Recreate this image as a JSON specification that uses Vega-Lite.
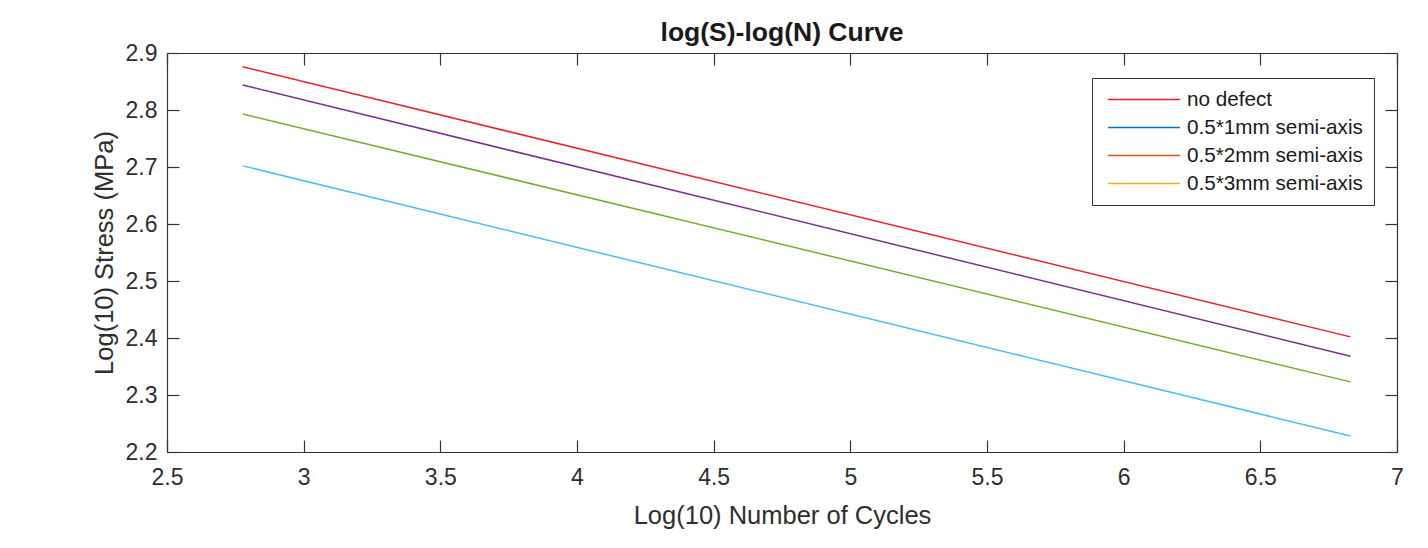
{
  "$schema": "https://vega.github.io/schema/vega-lite/v6.json",
  "width": 1230,
  "height": 399,
  "autosize": {"type": "none"},
  "padding": {"left": 167, "top": 53, "right": 31, "bottom": 96},
  "background": "white",
  "title": {
    "text": "log(S)-log(N) Curve",
    "font": "Liberation Sans",
    "fontSize": 26.5,
    "fontWeight": "bold",
    "color": "#1a1a1a",
    "baseline": "alphabetic",
    "offset": 10,
    "dy": 35,
    "frame": "group",
    "anchor": "middle"
  },
  "config": {
    "view": {"stroke": null},
    "axis": {
      "grid": false,
      "domainColor": "#333333",
      "domainWidth": 1.2,
      "tickColor": "#333333",
      "tickWidth": 1.2,
      "tickSize": -12,
      "labelFont": "Liberation Sans",
      "labelFontSize": 23,
      "labelColor": "#2e2e2e",
      "labelFlush": false,
      "labelOverlap": false,
      "titleFont": "Liberation Sans",
      "titleFontSize": 25.5,
      "titleFontWeight": "normal",
      "titleColor": "#2e2e2e"
    }
  },
  "data": {
    "values": [
      {"series": "no defect", "logN": 2.777, "logS": 2.876},
      {"series": "no defect", "logN": 6.83, "logS": 2.402},
      {"series": "0.5*1mm semi-axis", "logN": 2.777, "logS": 2.844},
      {"series": "0.5*1mm semi-axis", "logN": 6.83, "logS": 2.368},
      {"series": "0.5*2mm semi-axis", "logN": 2.777, "logS": 2.793},
      {"series": "0.5*2mm semi-axis", "logN": 6.83, "logS": 2.323},
      {"series": "0.5*3mm semi-axis", "logN": 2.777, "logS": 2.702},
      {"series": "0.5*3mm semi-axis", "logN": 6.83, "logS": 2.228}
    ]
  },
  "layer": [
    {
      "mark": {"type": "line", "strokeWidth": 1.5},
      "encoding": {
        "x": {
          "field": "logN",
          "type": "quantitative",
          "scale": {"domain": [2.5, 7], "nice": false, "zero": false},
          "axis": {
            "orient": "bottom",
            "values": [2.5, 3, 3.5, 4, 4.5, 5, 5.5, 6, 6.5, 7],
            "format": ".1~f",
            "labelPadding": 26,
            "title": "Log(10) Number of Cycles",
            "titleX": 615,
            "titleY": 71,
            "titleBaseline": "alphabetic"
          }
        },
        "y": {
          "field": "logS",
          "type": "quantitative",
          "scale": {"domain": [2.2, 2.9], "nice": false, "zero": false},
          "axis": {
            "orient": "left",
            "values": [2.2, 2.3, 2.4, 2.5, 2.6, 2.7, 2.8, 2.9],
            "format": ".1f",
            "labelPadding": 22,
            "title": "Log(10) Stress (MPa)",
            "titleAngle": -90,
            "titleX": -55,
            "titleY": 199.5,
            "titleAlign": "center",
            "titleBaseline": "alphabetic"
          }
        },
        "stroke": {
          "field": "series",
          "type": "nominal",
          "scale": {"range": ["#7e2f8e", "#77ac30", "#4dbeee", "#e8232c"]},
          "legend": null
        }
      }
    },
    {
      "mark": {"type": "line", "opacity": 0},
      "encoding": {
        "x": {
          "field": "logN",
          "type": "quantitative",
          "axis": {
            "orient": "top",
            "values": [2.5, 3, 3.5, 4, 4.5, 5, 5.5, 6, 6.5, 7],
            "labels": false,
            "title": null
          }
        },
        "y": {
          "field": "logS",
          "type": "quantitative",
          "axis": {
            "orient": "right",
            "values": [2.2, 2.3, 2.4, 2.5, 2.6, 2.7, 2.8, 2.9],
            "labels": false,
            "title": null
          }
        },
        "color": {
          "field": "series",
          "type": "nominal",
          "scale": {
            "domain": ["no defect", "0.5*1mm semi-axis", "0.5*2mm semi-axis", "0.5*3mm semi-axis"],
            "range": ["#e8232c", "#0072bd", "#d95319", "#edb120"]
          },
          "legend": {
            "title": null,
            "orient": "none",
            "legendX": 925,
            "legendY": 25,
            "fillColor": "white",
            "strokeColor": "#333333",
            "padding": 11,
            "symbolType": "stroke",
            "symbolSize": 5184,
            "symbolStrokeWidth": 1.5,
            "symbolOpacity": 1,
            "symbolOffset": 4,
            "clipHeight": 21,
            "rowPadding": 6,
            "labelFont": "Liberation Sans",
            "labelFontSize": 20.7,
            "labelColor": "#1a1a1a",
            "labelOffset": 6,
            "labelLimit": 400
          }
        }
      }
    }
  ],
  "resolve": {"axis": {"x": "independent", "y": "independent"}}
}
